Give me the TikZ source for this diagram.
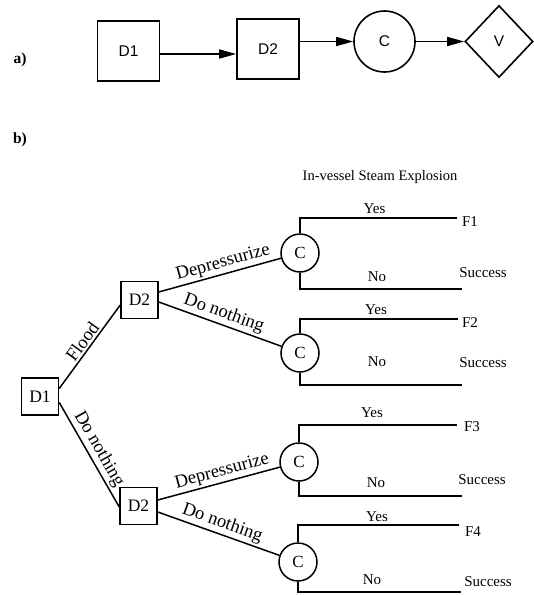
\documentclass[tikz,border=0pt]{standalone}
\usepackage{fontspec}
\setmainfont{Liberation Serif}
\newfontfamily\helv{Liberation Sans}
\usetikzlibrary{shapes.geometric,arrows.meta,calc}
\begin{document}
\begin{tikzpicture}[x=1pt,y=-1pt,
  afont/.style={font=\helv\fontsize{15.5}{18}\selectfont},
  abox/.style={draw,line width=1.6pt,minimum width=62pt,minimum height=60pt,inner sep=0pt,afont},
  acirc/.style={draw,circle,line width=1.6pt,minimum size=61pt,inner sep=0pt,afont},
  adiam/.style={draw,diamond,line width=1.6pt,minimum width=68pt,minimum height=72pt,inner sep=0pt,afont},
  aarr/.style={line width=1.6pt,-{Triangle[length=17pt,width=9pt]}},
  bbox/.style={draw,line width=1.5pt,minimum size=37pt,inner sep=0pt,font=\fontsize{17.5}{20}\selectfont},
  bcirc/.style={draw,circle,line width=1.5pt,minimum size=38pt,inner sep=0pt,font=\fontsize{17}{20}\selectfont},
  bline/.style={line width=1.5pt},
  blab/.style={font=\fontsize{18.5}{20}\selectfont,sloped,above,inner sep=2pt},
  otxt/.style={font=\fontsize{15}{17}\selectfont,inner sep=0pt},
  ptxt/.style={font=\bfseries\fontsize{15.5}{18}\selectfont,inner sep=0pt},
]
\useasboundingbox (0,0) rectangle (534,595);

% ---- part a ----
\node[ptxt] (la) at (20,60) {a)};
\node[abox] (a1) at (128.5,51) {D1};
\node[abox] (a2) at (268,49) {D2};
\node[acirc] (ac) at (384.5,41.5) {C};
\node[adiam] (av) at (499,41.5) {V};
\draw[aarr] (a1.east) ++(0,3) coordinate (a1o) -- (a1o -| a2.west);
\draw[aarr] (a2.east |- ac) -- (ac);
\draw[aarr] (ac) -- (av);

% ---- part b ----
\node[ptxt] (lb) at (20,140) {b)};
\node[otxt,font=\fontsize{14.5}{17}\selectfont] (head) at (380,177) {In-vessel Steam Explosion};

\node[bbox] (d1) at (40,396.5) {D1};
\node[bbox] (d2u) at (139.5,300) {D2};
\node[bbox] (d2l) at (138.5,506) {D2};

\node[bcirc] (c1) at (300,253) {C};
\node[bcirc] (c2) at (300,353) {C};
\node[bcirc] (c3) at (299,462) {C};
\node[bcirc] (c4) at (298,562) {C};

\draw[bline] ([yshift=8pt]d1.east) -- node[blab]{Flood} ([yshift=-5pt]d2u.west);
\draw[bline] ([yshift=-6pt]d1.east) -- node[blab]{Do nothing} ([yshift=-1pt]d2l.west);
\draw[bline] ([yshift=8pt]d2u.east) -- node[blab,pos=0.55]{Depressurize} (c1);
\draw[bline] ([yshift=-2pt]d2u.east) -- node[blab]{Do nothing} (c2);
\draw[bline] ([yshift=6pt]d2l.east) -- node[blab,pos=0.55]{Depressurize} (c3);
\draw[bline] ([yshift=-6pt]d2l.east) -- node[blab]{Do nothing} (c4);

\coordinate (y1) at (457,218); \coordinate (n1) at (462,289);
\coordinate (y2) at (458,319); \coordinate (n2) at (462,385);
\coordinate (y3) at (457,425); \coordinate (n3) at (462,496);
\coordinate (y4) at (459,525); \coordinate (n4) at (461,592);
\foreach \i in {1,2,3,4}{
  \draw[bline] (c\i.north) |- (y\i);
  \draw[bline] (c\i.south) |- (n\i);
}

\node[otxt] (yes1) at (374.5,209) {Yes};
\node[otxt] (yes2) at (376,310) {Yes};
\node[otxt] (yes3) at (372,413) {Yes};
\node[otxt] (yes4) at (377,517) {Yes};
\node[otxt] (no1) at (377,277) {No};
\node[otxt] (no2) at (377,362) {No};
\node[otxt] (no3) at (376,483) {No};
\node[otxt] (no4) at (372,580) {No};
\node[otxt] (f1) at (470,222) {F1};
\node[otxt] (f2) at (470,323) {F2};
\node[otxt] (f3) at (472,427) {F3};
\node[otxt] (f4) at (473,532) {F4};
\node[otxt] (s1) at (483,273) {Success};
\node[otxt] (s2) at (483,363) {Success};
\node[otxt] (s3) at (482,480) {Success};
\node[otxt] (s4) at (488,582) {Success};
\end{tikzpicture}
\end{document}
